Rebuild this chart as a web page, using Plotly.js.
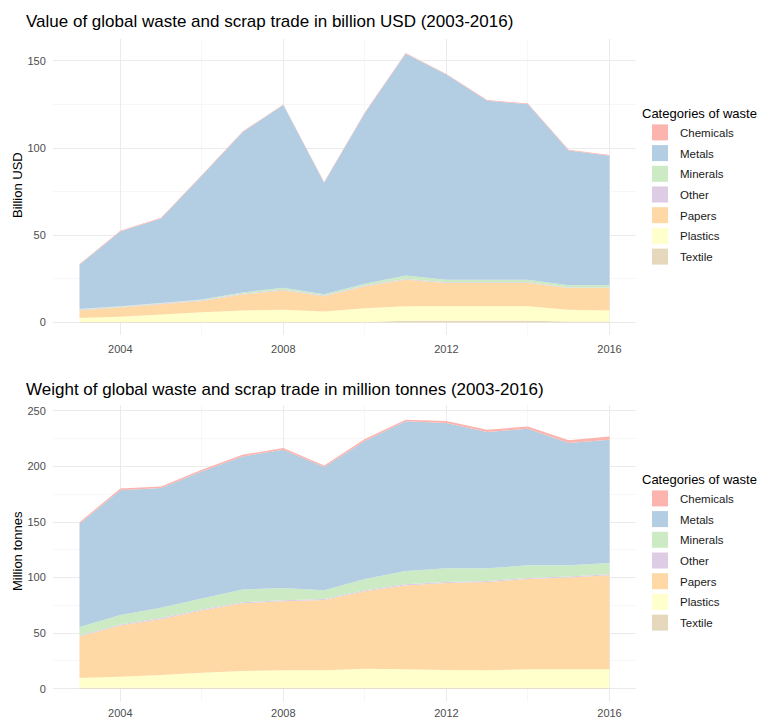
<!DOCTYPE html>
<html>
<head>
<meta charset="utf-8">
<script src="https://cdn.plot.ly/plotly-3.0.1.min.js"></script>
<style>
html,body{margin:0;padding:0;background:#fff;}
#chart{width:775px;height:718px;}
</style>
</head>
<body>
<div id="chart"></div>
<script>
// ---- data ----
const years = [2003,2004,2005,2006,2007,2008,2009,2010,2011,2012,2013,2014,2015,2016];
const categories = ['Chemicals','Metals','Minerals','Other','Papers','Plastics','Textile'];
const xTickLabels = ['2004','2008','2012','2016'];
const xTickValues = [2004,2008,2012,2016];

// Value, billion USD
const valueChemicals = [0.4,0.4,0.4,0.4,0.4,0.4,0.4,0.4,0.4,0.4,0.4,0.4,0.4,0.4];
const valueMetals    = [25.4,42.8,48.4,70.9,91.9,104.7,63.9,97.9,127.2,117.6,102.6,100.6,77.3,74.3];
const valueMinerals  = [0.3,0.4,0.4,0.5,0.8,1.2,0.8,1.2,2.0,1.5,1.5,1.5,1.2,1.2];
const valueOther     = [0.4,0.4,0.4,0.4,0.4,0.4,0.4,0.4,0.4,0.4,0.4,0.4,0.4,0.4];
const valuePapers    = [4.4,5.2,5.9,6.5,9.2,11.0,8.7,12.5,15.2,13.3,13.3,13.3,12.4,12.8];
const valuePlastics  = [2.3,3.0,4.2,5.5,6.5,7.0,6.0,7.8,8.3,8.3,8.3,8.3,6.8,6.4];
const valueTextile   = [0.3,0.3,0.3,0.3,0.3,0.3,0.3,0.3,1.0,1.0,1.0,1.0,0.5,0.5];

// Weight, million tonnes
const weightChemicals = [1.2,1.7,1.5,1.5,1.5,1.5,1.4,1.8,1.4,1.9,2.0,2.0,2.5,3.0];
const weightMetals    = [93.1,112.3,107.7,114.4,119.8,124.3,110.9,124.2,134.7,130.7,122.7,123.0,110.0,111.0];
const weightMinerals  = [7.5,8.4,9.3,9.8,11.4,11.1,7.8,10.2,12.0,12.3,11.3,11.4,10.0,10.0];
const weightOther     = [1.0,1.0,1.0,1.0,1.0,1.0,1.0,1.0,1.0,1.0,1.0,1.0,1.0,1.0];
const weightPapers    = [37.3,46.0,50.2,55.9,60.9,62.1,63.3,69.6,75.5,78.2,79.5,81.2,82.6,84.6];
const weightPlastics  = [8.8,10.0,11.5,13.6,15.1,15.7,15.7,17.2,16.6,16.0,15.7,16.6,16.6,16.6];
const weightTextile   = [0.8,0.8,0.8,0.8,0.8,0.8,0.8,0.8,0.8,0.8,0.8,0.8,0.8,0.8];

// ---- styles ----
const palette = {
  Chemicals:'#FBB4AE', Metals:'#B3CDE3', Minerals:'#CCEBC5', Other:'#DECBE4',
  Papers:'#FED9A6', Plastics:'#FFFFCC', Textile:'#E5D8BD'
};
const FONT = 'Liberation Sans, Arial, sans-serif';

const valueSeries = {Chemicals:valueChemicals, Metals:valueMetals, Minerals:valueMinerals,
  Other:valueOther, Papers:valuePapers, Plastics:valuePlastics, Textile:valueTextile};
const weightSeries = {Chemicals:weightChemicals, Metals:weightMetals, Minerals:weightMinerals,
  Other:weightOther, Papers:weightPapers, Plastics:weightPlastics, Textile:weightTextile};

const traces = [];
function addPanel(series, xa, ya, legendId, group){
  // stack from bottom (Textile) to top (Chemicals)
  const order = categories.slice().reverse();
  order.forEach(cat => {
    traces.push({
      type:'scatter', x:years, y:series[cat], name:cat,
      stackgroup:group, mode:'none', fillcolor:palette[cat],
      line:{width:0}, xaxis:xa, yaxis:ya, showlegend:false, hoverinfo:'x+y+name'
    });
  });
  // legend keys (no data), listed Chemicals -> Textile
  categories.forEach(cat => {
    traces.push({
      type:'scatter', x:[null], y:[null], name:cat, mode:'markers',
      marker:{symbol:'square', size:16, color:palette[cat]},
      xaxis:xa, yaxis:ya, legend:legendId, legendgroup:group + cat,
      showlegend:true, hoverinfo:'skip'
    });
  });
}
addPanel(valueSeries, 'x', 'y', 'legend', 'v');
addPanel(weightSeries, 'x2', 'y2', 'legend2', 'w');

const W = 775, H = 718;
const px = v => v / W;
const py = v => 1 - v / H;

const gridC = '#EBEBEB';
function xAxis(anchor, tl){
  return {
    domain:[px(53), px(636)], range:[2002.35, 2016.65], anchor:anchor,
    tickmode:'array', tickvals:xTickValues, ticktext:xTickLabels,
    showgrid:true, gridcolor:gridC, gridwidth:1,
    minor:{tickmode:'array', tickvals:[2006,2010,2014], showgrid:true, gridcolor:'#F2F2F2', gridwidth:0.6},
    zeroline:false, showline:false, ticks:'outside', ticklen:tl, tickcolor:'rgba(0,0,0,0)',
    tickfont:{family:FONT, size:11, color:'#4D4D4D'}, fixedrange:true
  };
}
function yAxis(dom, range, dtick, anchor){
  return {
    domain:dom, range:range, anchor:anchor, tickmode:'linear', tick0:0, dtick:dtick,
    showgrid:true, gridcolor:gridC, gridwidth:1,
    minor:{tickmode:'linear', tick0:dtick/2, dtick:dtick, showgrid:true, gridcolor:'#F2F2F2', gridwidth:0.6},
    zeroline:false, showline:false, ticks:'outside', ticklen:4, tickcolor:'rgba(0,0,0,0)',
    tickfont:{family:FONT, size:11, color:'#4D4D4D'}, fixedrange:true
  };
}

const legendBase = {
  traceorder:'grouped', bgcolor:'rgba(0,0,0,0)', borderwidth:0,
  font:{family:FONT, size:11.5, color:'#1A1A1A'},
  title:{text:'Categories of waste', font:{family:FONT, size:13, color:'#000'}},
  xanchor:'left', yanchor:'top', itemsizing:'trace', tracegroupgap:1.7
};

const layout = {
  width:W, height:H, margin:{l:0,r:0,t:0,b:0},
  paper_bgcolor:'#fff', plot_bgcolor:'#fff',
  font:{family:FONT},
  xaxis: xAxis('y', 4),
  yaxis: yAxis([py(335), py(39)], [-7.2, 162.5], 50, 'x'),
  xaxis2: xAxis('y2', 1),
  yaxis2: yAxis([py(702), py(405)], [-12, 255.3], 50, 'x2'),
  legend: Object.assign({}, legendBase, {x:px(640), y:py(101)}),
  legend2: Object.assign({}, legendBase, {x:px(640), y:py(467)}),
  annotations:[
    {text:'Value of global waste and scrap trade in billion USD (2003-2016)', xref:'paper', yref:'paper',
     x:px(24), y:py(22), xanchor:'left', yanchor:'middle', showarrow:false,
     font:{family:FONT, size:17, color:'#000'}},
    {text:'Weight of global waste and scrap trade in million tonnes (2003-2016)', xref:'paper', yref:'paper',
     x:px(24), y:py(389), xanchor:'left', yanchor:'middle', showarrow:false,
     font:{family:FONT, size:17, color:'#000'}},
    {text:'Billion USD', xref:'paper', yref:'paper', x:px(17), y:py(185), textangle:-90,
     xanchor:'center', yanchor:'middle', showarrow:false, font:{family:FONT, size:13, color:'#000'}},
    {text:'Million tonnes', xref:'paper', yref:'paper', x:px(17), y:py(551), textangle:-90,
     xanchor:'center', yanchor:'middle', showarrow:false, font:{family:FONT, size:13, color:'#000'}}
  ]
};

Plotly.newPlot('chart', traces, layout, {displayModeBar:false, staticPlot:true});
</script>
</body>
</html>
